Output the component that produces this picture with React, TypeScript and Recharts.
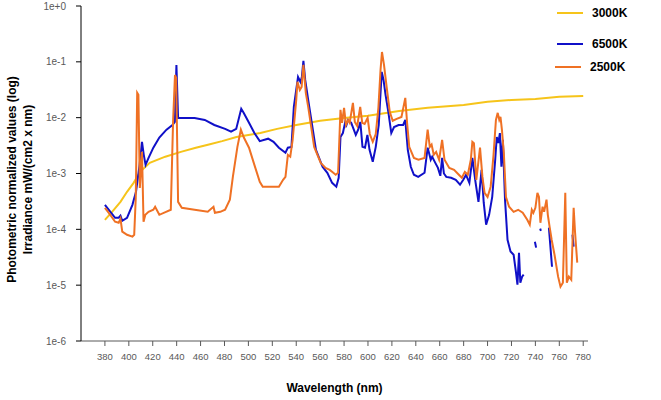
import { LineChart, Line, XAxis, YAxis, Legend, Label } from 'recharts'

// wavelength (nm) and irradiance values, per lamp
const WL_3000K = [380, 386, 393, 398.5, 404, 409.5, 417.5, 430.5, 443.5, 456, 467, 478, 490, 500, 510, 524, 540, 560, 580, 600, 626, 650, 680, 700, 720, 740, 760, 780]
const IRR_3000K = [1.48e-4, 2.06e-4, 3.1e-4, 4.7e-4, 6.8e-4, 1.07e-3, 1.55e-3, 2.0e-3, 2.44e-3, 2.9e-3, 3.3e-3, 3.8e-3, 4.5e-3, 4.9e-3, 5.3e-3, 6.3e-3, 7.4e-3, 8.8e-3, 9.9e-3, 0.0108, 0.0132, 0.015, 0.0169, 0.0192, 0.0208, 0.0217, 0.0236, 0.0245]

const WL_6500K = [
  380, 388.5, 391.5, 393, 394.5, 398.5, 403, 406, 409, 411, 412.5, 414, 416.5, 420.5, 425.5, 431.5, 436.5, 438.5, 439.8, 441.2,
  447, 455, 463.5, 471.5, 480.5, 485.5, 489.8, 494, 496, 500.5, 505, 509.5, 516.5, 521, 525.5, 531, 533, 536, 538, 541.5,
  543.5, 544.7, 546, 547.5, 550, 556.5, 562, 566, 570, 573.5, 575.5, 577, 579, 581, 582, 583.4, 586, 589.8, 591.8, 593.6,
  595.4, 597.5, 599.5, 601.3, 604, 606.5, 609, 611.5, 613, 614.7, 617, 619.5, 621.8, 625.6, 629.4, 631.2, 633.3, 635.8, 638.4, 642,
  647.3, 649.9, 651, 652.5, 653.7, 656.3, 658.5, 660.5, 662, 663.5, 665.5, 669.5, 673.4, 677, 679.7, 682, 684.8, 687.3, 689.9, 692.4,
  695, 696.8, 698.8, 701.3, 703.9, 706.4, 707.7, 709, 710.3, 711.6, 712.8, 714.6, 716.7, 719.2, 721.8, 723.8, 725, 726.3, 727.4, 728.9,
  730.2, 734, 739.6, 740.6, 742, 744, 744.6, 747, 751.3, 753.9, 760, 771, 772,
]
const IRR_6500K = [
  2.75e-4, 1.61e-4, 1.61e-4, 1.75e-4, 1.42e-4, 1.61e-4, 2.75e-4, 4.7e-4, 1.43e-3, 3.7e-3, 2.16e-3, 1.43e-3, 1.9e-3, 2.9e-3, 4.4e-3, 6.1e-3, 7.4e-3, 8.4e-3, 0.088, 9.9e-3,
  9.9e-3, 9.9e-3, 9.1e-3, 7.4e-3, 6.3e-3, 5.6e-3, 6.3e-3, 0.0144, 0.0122, 8.1e-3, 5.3e-3, 3.8e-3, 4.2e-3, 3.7e-3, 2.9e-3, 2.35e-3, 2.9e-3, 3.0e-3, 0.0156, 0.0537,
  0.0437, 0.0537, 0.104, 0.0474, 0.0208, 2.65e-3, 1.32e-3, 1.03e-3, 6.8e-4, 5.8e-4, 8.4e-4, 4.5e-3, 5.3e-3, 8.4e-3, 7.4e-3, 9.1e-3, 8.1e-3, 4.9e-3, 6.1e-3, 8.4e-3,
  3.0e-3, 2.9e-3, 4.9e-3, 2.65e-3, 1.62e-3, 3.0e-3, 7.4e-3, 0.066, 0.0474, 0.0256, 0.0127, 5.3e-3, 6.8e-3, 7.4e-3, 7.4e-3, 9.1e-3, 2.65e-3, 1.32e-3, 9.5e-4, 8.7e-4,
  1.03e-3, 2.9e-3, 2.35e-3, 1.76e-3, 2.0e-3, 1.55e-3, 1.26e-3, 9.1e-4, 1.9e-3, 1.0e-3, 8.7e-4, 8.4e-4, 7.7e-4, 6.3e-4, 7.7e-4, 9.5e-4, 6.8e-4, 1.9e-3, 7.1e-4, 3.1e-4,
  1.16e-3, 3.0e-4, 1.21e-4, 1.82e-4, 3.8e-4, 1.76e-3, 4.5e-3, 3.5e-3, 5.3e-3, 1.32e-3, 4.0e-3, 3.4e-4, 6.5e-5, 4.0e-5, 3.5e-5, 1.67e-5, 1.02e-5, 3.8e-5, 1.11e-5, 1.42e-5,
  1.54e-5, null, 6.0e-5, 4.7e-5, null, 1.03e-4, 9.4e-5, null, 1.07e-4, 2.14e-5, null, 8.0e-5, 4.9e-5,
]

const WL_2500K = [
  380, 384.5, 388.5, 391.5, 393, 394.5, 398.5, 403, 404.5, 405.8, 407, 408, 409.2, 411, 412.3, 413.8, 416.5, 420.5, 422, 425.5,
  431.1, 435.1, 437, 438.6, 439.6, 441.2, 444.3, 455, 466, 470.8, 472, 476.5, 480.5, 484.5, 487, 490.8, 493.7, 496, 500.5, 505,
  509.5, 512, 518.5, 525.5, 529, 531, 533, 535, 537, 540, 541, 543, 544.5, 546, 548, 550, 555, 560.5, 564.5, 568,
  571, 573, 575, 577, 578.3, 580, 581.6, 583.4, 584.7, 587.4, 589, 591, 593.5, 595.2, 597.2, 599.7, 601.5, 604, 606.5, 608.7,
  610.5, 611.7, 613.4, 615.6, 618.2, 620.7, 624, 628, 631.2, 632.7, 634.5, 638.4, 642.2, 647.3, 649.9, 651.7, 653.2, 655, 657, 659.5,
  662, 664, 668, 672, 676, 678.5, 681, 683.5, 686, 687.3, 688.6, 690.6, 693.7, 695.7, 697.5, 700, 702.6, 705, 707, 708.5,
  709.8, 710.8, 712, 713.6, 715.4, 718, 721.8, 725.6, 729.4, 733.2, 735.3, 737, 738.3, 740, 741.7, 743, 744.2, 746, 747.3, 749.3,
  750.4, 751.9, 753.6, 756, 759, 761, 763, 765, 766.3, 768, 770, 772, 773.2, 775,
]
const IRR_2500K = [
  2.43e-4, 1.82e-4, 1.37e-4, 1.31e-4, 1.55e-4, 9.1e-5, 8.0e-5, 7.4e-5, 8.0e-5, 3.7e-4, 0.0278, 0.0256, 5.5e-4, 2.44e-3, 1.37e-4, 1.82e-4, 2.06e-4, 2.24e-4, 2.54e-4, 1.82e-4,
  2.06e-4, 2.24e-4, 8.4e-3, 0.0583, 0.0515, 3.1e-4, 2.43e-4, 2.24e-4, 2.06e-4, 2.54e-4, 1.98e-4, 2.06e-4, 2.24e-4, 3.4e-4, 8.7e-4, 3.0e-3, 6.1e-3, 4.5e-3, 2.9e-3, 1.43e-3,
  7.1e-4, 5.8e-4, 5.8e-4, 5.8e-4, 7.7e-4, 8.7e-4, 2.16e-3, 2.0e-3, 4.0e-3, 0.0208, 0.0437, 0.0314, 0.0356, 0.088, 0.0278, 0.0156, 3.0e-3, 1.55e-3, 1.26e-3, 1.16e-3,
  1.03e-3, 9.5e-4, 1.03e-3, 0.0138, 8.1e-3, 0.015, 7.4e-3, 9.1e-3, 8.1e-3, 0.0184, 8.4e-3, 7.1e-3, 0.0156, 8.1e-3, 7.7e-3, 9.9e-3, 5.1e-3, 3.7e-3, 5.1e-3, 0.015,
  0.0716, 0.15, 0.088, 0.0356, 0.0127, 8.8e-3, 9.5e-3, 0.0103, 0.0226, 8.1e-3, 3.0e-3, 1.9e-3, 1.76e-3, 1.9e-3, 6.1e-3, 3.0e-3, 3.3e-3, 2.16e-3, 2.44e-3, 1.76e-3,
  4.0e-3, 1.76e-3, 1.26e-3, 1.16e-3, 9.5e-4, 8.4e-4, 1.07e-3, 9.5e-4, 1.76e-3, 3.7e-3, 3.5e-3, 7.7e-4, 2.9e-3, 8.7e-4, 4.5e-4, 3.8e-4, 5.8e-4, 2.16e-3, 9.1e-3, 0.0122,
  9.1e-3, 0.0103, 6.1e-3, 2.35e-3, 3.8e-4, 2.54e-4, 2.06e-4, 2.24e-4, 1.98e-4, 1.48e-4, 1.21e-4, 2.24e-4, 1.98e-4, 2.43e-4, 4.5e-4, 3.8e-4, 1.31e-4, 2.54e-4, 2.06e-4, 3.4e-4,
  1.82e-4, 1.11e-4, 6.5e-5, 3.5e-5, 1.42e-5, 9.4e-6, 1.11e-5, 4.5e-4, 1.11e-5, 1.42e-5, 1.25e-5, 2.43e-4, 8.7e-5, 2.53e-5,
]

const X_TICKS = [380, 400, 420, 440, 460, 480, 500, 520, 540, 560, 580, 600, 620, 640, 660, 680, 700, 720, 740, 760, 780]
const Y_TICKS = [1e-6, 1e-5, 1e-4, 1e-3, 1e-2, 1e-1, 1]

const COLORS = {
  k3000: '#F6C41A',
  k6500: '#1010C8',
  k2500: '#EF7124',
}

const FONT = '"Liberation Sans", Arial, sans-serif'

const toPoints = (wl: number[], irr: (number | null)[]) => wl.map((w, i) => ({ wl: w, irr: irr[i] }))

const data3000 = toPoints(WL_3000K, IRR_3000K)
const data6500 = toPoints(WL_6500K, IRR_6500K)
const data2500 = toPoints(WL_2500K, IRR_2500K)

const LEGEND_ITEMS = [
  { name: '3000K', color: COLORS.k3000, top: 13, left: 557 },
  { name: '6500K', color: COLORS.k6500, top: 44, left: 557 },
  { name: '2500K', color: COLORS.k2500, top: 67, left: 555 },
]

function formatExp(v: number) {
  const e = Math.round(Math.log10(v))
  return `1e${e >= 0 ? '+' : ''}${e}`
}

function LegendBox() {
  return (
    <div style={{ position: 'relative', width: 661, height: 400 }}>
      {LEGEND_ITEMS.map((it) => (
        <div
          key={it.name}
          style={{ position: 'absolute', left: it.left, top: it.top - 8, height: 16, display: 'flex', alignItems: 'center' }}
        >
          <span style={{ display: 'inline-block', width: 26, height: 2, background: it.color }} />
          <span style={{ marginLeft: 9, fontFamily: FONT, fontWeight: 'bold', fontSize: 12, color: '#000' }}>{it.name}</span>
        </div>
      ))}
    </div>
  )
}

function YTitle(props: any) {
  const vb = props.viewBox || { y: 6, height: 335 }
  const cy = vb.y + vb.height / 2 + 6
  const style = { fontFamily: FONT, fontWeight: 'bold' as const, fontSize: 12, fill: '#000' }
  return (
    <g>
      <text x={12} y={cy} transform={`rotate(-90, 12, ${cy})`} textAnchor="middle" dominantBaseline="central" style={style}>
        Photometric normalized values (log)
      </text>
      <text x={28} y={cy} transform={`rotate(-90, 28, ${cy})`} textAnchor="middle" dominantBaseline="central" style={style}>
        Irradiance mW/(cm2 x nm)
      </text>
    </g>
  )
}

function XTitle(props: any) {
  const vb = props.viewBox || { x: 81, width: 507 }
  return (
    <text
      x={vb.x + vb.width / 2}
      y={388}
      textAnchor="middle"
      dominantBaseline="central"
      style={{ fontFamily: FONT, fontWeight: 'bold', fontSize: 12, fill: '#000' }}
    >
      Wavelength (nm)
    </text>
  )
}

export default function App() {
  return (
    <div style={{ position: 'absolute', left: 0, top: 0, width: 661, height: 400, background: '#fff' }}>
      <LineChart width={661} height={400} margin={{ top: 6, right: 73, bottom: 19, left: 21 }}>
        <XAxis
          dataKey="wl"
          type="number"
          domain={[360, 784]}
          ticks={X_TICKS}
          interval={0}
          allowDataOverflow
          height={40}
          tickSize={5}
          tickMargin={7}
          axisLine={{ stroke: '#595959' }}
          tickLine={{ stroke: '#595959' }}
          tick={{ fontSize: 9.5, fill: '#595959', fontFamily: FONT }}
        >
          <Label content={<XTitle />} />
        </XAxis>
        <YAxis
          type="number"
          scale="log"
          domain={[1e-6, 1]}
          ticks={Y_TICKS}
          interval={0}
          allowDataOverflow
          width={60}
          tickSize={5}
          tickMargin={10}
          tickFormatter={formatExp}
          axisLine={{ stroke: '#000' }}
          tickLine={{ stroke: '#000' }}
          tick={{ fontSize: 10, fill: '#595959', fontFamily: FONT }}
        >
          <Label content={<YTitle />} />
        </YAxis>
        <Legend
          layout="horizontal"
          verticalAlign="middle"
          align="center"
          content={<LegendBox />}
          wrapperStyle={{ left: 0, top: 0, width: 661, height: 400, pointerEvents: 'none' }}
        />
        <Line
          data={data3000}
          dataKey="irr"
          name="3000K"
          type="linear"
          stroke={COLORS.k3000}
          strokeWidth={2}
          dot={false}
          isAnimationActive={false}
        />
        <Line
          data={data6500}
          dataKey="irr"
          name="6500K"
          type="linear"
          stroke={COLORS.k6500}
          strokeWidth={2}
          dot={false}
          connectNulls={false}
          isAnimationActive={false}
        />
        <Line
          data={data2500}
          dataKey="irr"
          name="2500K"
          type="linear"
          stroke={COLORS.k2500}
          strokeWidth={2}
          dot={false}
          isAnimationActive={false}
        />
      </LineChart>
    </div>
  )
}
